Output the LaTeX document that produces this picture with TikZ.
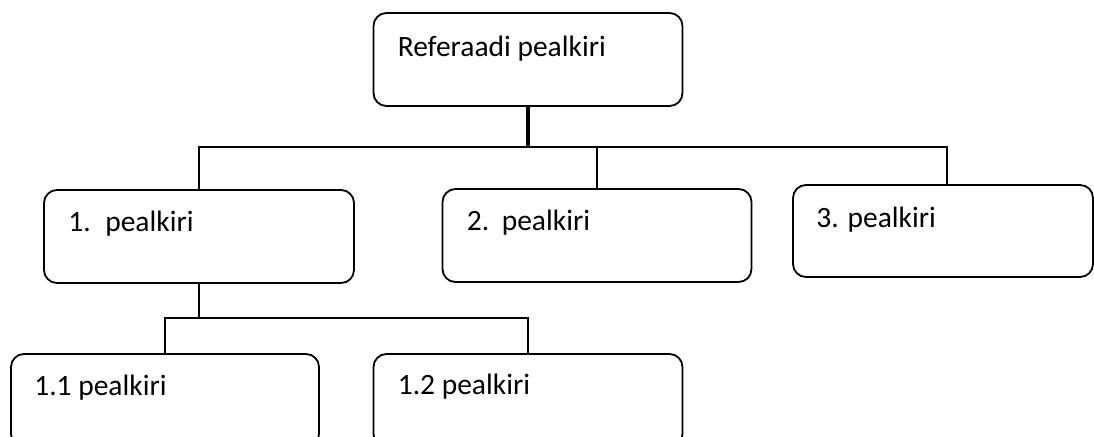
\documentclass[tikz,border=0pt]{standalone}
\usepackage{fontspec}
\setmainfont{Carlito}
\usetikzlibrary{calc}
\begin{document}
\begin{tikzpicture}[x=1pt,y=-1pt,
  box/.style={draw=black,line width=1.8pt,rounded corners=13pt,minimum width=309pt,minimum height=93pt,inner sep=0pt},
  lbl/.style={anchor=base west,inner sep=0pt,font=\fontsize{29.5}{34}\selectfont},
  conn/.style={draw=black,line width=1.8pt}]
\clip (0,0) rectangle (1094,436);
\fill[white] (0,0) rectangle (1094,436);
\node[box] (n0) at (528,59.5) {};
\node[box,minimum width=310pt] (n1) at (199,236.5) {};
\node[box] (n2) at (597,235.5) {};
\node[box,minimum width=300pt,minimum height=92pt] (n3) at (943,231) {};
\node[box,minimum width=308pt] (n11) at (165,400.5) {};
\node[box] (n12) at (528,400.5) {};
\node[lbl] (t0) at ($(n0.north west)+(25,44)$) {Referaadi pealkiri};
\node[lbl] (t1) at ($(n1.north west)+(25,42)$) {\makebox[37pt][l]{1.}pealkiri};
\node[lbl] (t2) at ($(n2.north west)+(25,42)$) {\makebox[35pt][l]{2.}pealkiri};
\node[lbl] (t3) at ($(n3.north west)+(24,43)$) {3. pealkiri};
\node[lbl] (t11) at ($(n11.north west)+(24,42)$) {1.1 pealkiri};
\node[lbl] (t12) at ($(n12.north west)+(25,41)$) {1.2 pealkiri};
\coordinate (j0) at (528,147);
\coordinate (j1) at (199,318);
\draw[conn,line width=3.2pt] (n0.south) -- (j0);
\draw[conn] (j0) -| (n1.north);
\draw[conn] (j0) -| (n2.north);
\draw[conn] (j0) -| ($(n3.north)+(4,0)$);
\draw[conn] (n1.south) -- (j1);
\draw[conn] (j1) -| (n11.north);
\draw[conn] (j1) -| (n12.north);
\end{tikzpicture}
\end{document}
